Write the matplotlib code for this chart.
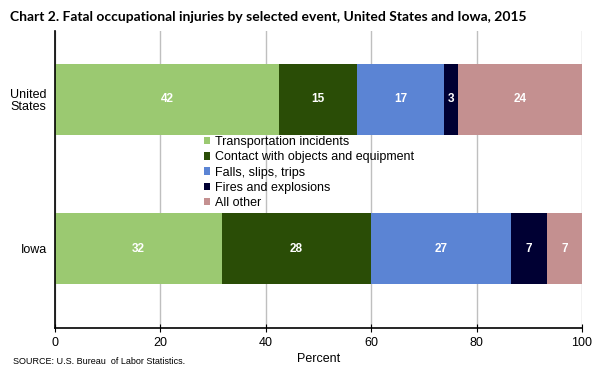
import numpy as np
import matplotlib.pyplot as plt

# data (percent of fatal injuries)
areas = ["Iowa", "United\nStates"]
events = ["Transportation incidents", "Contact with objects and equipment",
          "Falls, slips, trips", "Fires and explosions", "All other"]
iowa_share = [31.7, 28.2, 26.7, 6.7, 6.7]
us_share = [42.5, 14.8, 16.6, 2.6, 23.5]
iowa_labels = ["32", "28", "27", "7", "7"]
us_labels = ["42", "15", "17", "3", "24"]
colors = ["#9bc971", "#2a4d06", "#5b84d4", "#000033", "#c49090"]

shares = np.array([iowa_share, us_share])
labels = [iowa_labels, us_labels]

fig = plt.figure(figsize=(6, 3.73), dpi=100)
ax = fig.add_axes([0.0917, 0.1206, 0.8783, 0.7964])

ypos = np.arange(len(areas))
left = np.zeros(len(areas))
handles = []
for k in range(len(events)):
    bars = ax.barh(ypos, shares[:, k], left=left, height=0.475,
                   color=colors[k], zorder=2, label=events[k])
    handles.append(bars)
    for i in range(len(areas)):
        ax.text(left[i] + shares[i, k] / 2, ypos[i], labels[i][k],
                ha="center", va="center", color="white", fontsize=8.5,
                fontweight="bold", family="Liberation Sans", zorder=3)
    left += shares[:, k]

ax.set_xlim(0, 100)
ax.set_ylim(-0.529, 1.4585)
ax.set_xticks([0, 20, 40, 60, 80, 100])
ax.set_yticks(ypos)
ax.set_yticklabels(areas, family="Liberation Sans", fontsize=9, linespacing=1.0)
ax.tick_params(axis="y", length=0, pad=6)
ax.tick_params(axis="x", direction="inout", length=6, labelsize=9)
for t in ax.get_xticklabels():
    t.set_family("Liberation Sans")
ax.xaxis.grid(True, color="#bfbfbf", linewidth=1, zorder=0)
ax.set_axisbelow(True)
for s in ["top", "right"]:
    ax.spines[s].set_visible(False)
ax.spines["left"].set_linewidth(1.2)
ax.spines["bottom"].set_linewidth(1.2)
ax.set_xlabel("Percent", family="Liberation Sans", fontsize=9, labelpad=3)

leg = ax.legend(handles=handles, loc="center left", bbox_to_anchor=(0.27, 0.523),
                frameon=False, prop={"family": "Liberation Sans", "size": 9},
                handlelength=0.55, handleheight=0.55, handletextpad=0.4,
                labelspacing=0.26, borderpad=0)

fig.text(0.017, 0.955, "Chart 2. Fatal occupational injuries by selected event, United States and Iowa, 2015",
         fontsize=10, fontweight="bold", family="Lato", va="center")
fig.text(0.022, 0.03, "SOURCE: U.S. Bureau  of Labor Statistics.", fontsize=6.5,
         family="Liberation Sans", va="center")

fig.savefig("out.png", dpi=100)
